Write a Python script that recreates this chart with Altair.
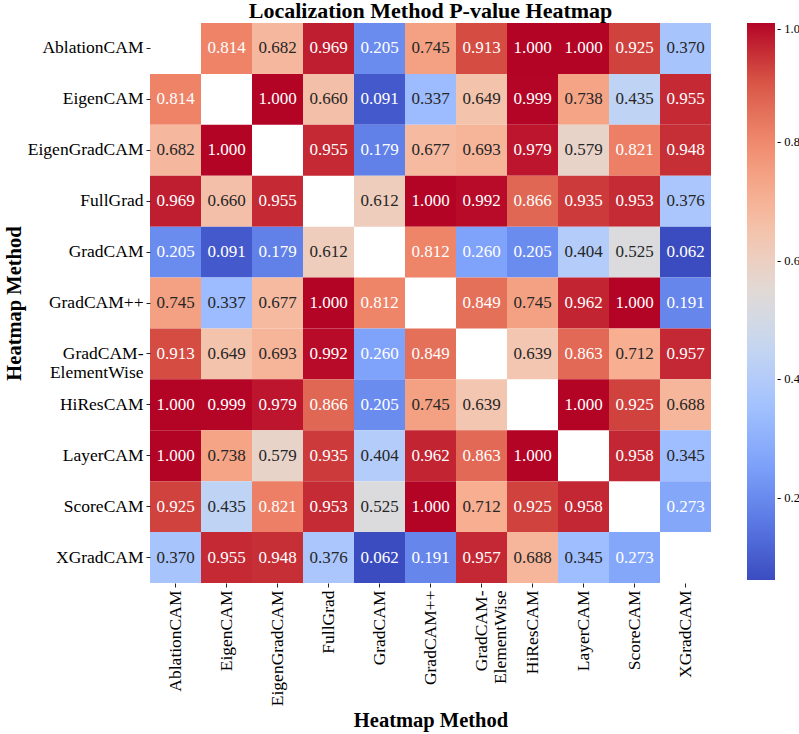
import altair as alt
import pandas as pd

methods = ["AblationCAM", "EigenCAM", "EigenGradCAM", "FullGrad", "GradCAM", "GradCAM++",
           "GradCAM-ElementWise", "HiResCAM", "LayerCAM", "ScoreCAM", "XGradCAM"]

row_ablationcam = [None, 0.814, 0.682, 0.969, 0.205, 0.745, 0.913, 1.000, 1.000, 0.925, 0.370]
row_eigencam = [0.814, None, 1.000, 0.660, 0.091, 0.337, 0.649, 0.999, 0.738, 0.435, 0.955]
row_eigengradcam = [0.682, 1.000, None, 0.955, 0.179, 0.677, 0.693, 0.979, 0.579, 0.821, 0.948]
row_fullgrad = [0.969, 0.660, 0.955, None, 0.612, 1.000, 0.992, 0.866, 0.935, 0.953, 0.376]
row_gradcam = [0.205, 0.091, 0.179, 0.612, None, 0.812, 0.260, 0.205, 0.404, 0.525, 0.062]
row_gradcampp = [0.745, 0.337, 0.677, 1.000, 0.812, None, 0.849, 0.745, 0.962, 1.000, 0.191]
row_elementwise = [0.913, 0.649, 0.693, 0.992, 0.260, 0.849, None, 0.639, 0.863, 0.712, 0.957]
row_hirescam = [1.000, 0.999, 0.979, 0.866, 0.205, 0.745, 0.639, None, 1.000, 0.925, 0.688]
row_layercam = [1.000, 0.738, 0.579, 0.935, 0.404, 0.962, 0.863, 1.000, None, 0.958, 0.345]
row_scorecam = [0.925, 0.435, 0.821, 0.953, 0.525, 1.000, 0.712, 0.925, 0.958, None, 0.273]
row_xgradcam = [0.370, 0.955, 0.948, 0.376, 0.062, 0.191, 0.957, 0.688, 0.345, 0.273, None]

rows = [row_ablationcam, row_eigencam, row_eigengradcam, row_fullgrad, row_gradcam, row_gradcampp,
        row_elementwise, row_hirescam, row_layercam, row_scorecam, row_xgradcam]

legend_ticks = [0.2, 0.4, 0.6, 0.8, 1.0]

coolwarm = ["#3b4cc0", "#5977e3", "#7b9ff9", "#9ebeff", "#c0d4f5", "#dddcdc",
            "#f2cbb7", "#f7ac8e", "#ee8468", "#d65244", "#b40426"]

vmin, vmax = 0.062, 1.0
stops = [vmin + (vmax - vmin) * i / (len(coolwarm) - 1) for i in range(len(coolwarm))]

records = []
for r, row in zip(methods, rows):
    for c, v in zip(methods, row):
        if v is not None:
            records.append({"row": r, "col": c, "v": v, "txt": f"{v:.3f}"})
df = pd.DataFrame(records)

FONT = "Liberation Serif"
label_expr = "datum.label == 'GradCAM-ElementWise' ? ['GradCAM-', 'ElementWise'] : datum.label"

x_enc = alt.X("col:N", sort=methods, scale=alt.Scale(domain=methods, paddingInner=0, paddingOuter=0),
              axis=alt.Axis(title="Heatmap Method", labelAngle=-90, labelAlign="right", labelBaseline="middle",
                            labelExpr=label_expr, labelFont=FONT, labelFontSize=17.5, labelColor="#000",
                            labelPadding=3, labelLineHeight=19,
                            tickSize=4, tickColor="#222", domain=False,
                            titleFont=FONT, titleFontSize=20.5, titleFontWeight="bold", titleColor="#000",
                            titleY=143, titleBaseline="alphabetic"))
y_enc = alt.Y("row:N", sort=methods, scale=alt.Scale(domain=methods, paddingInner=0, paddingOuter=0),
              axis=alt.Axis(title="Heatmap Method", labelExpr=label_expr, labelFont=FONT, labelFontSize=17.5,
                            labelColor="#000", labelPadding=3, labelLineHeight=19,
                            tickSize=4, tickColor="#222", domain=False,
                            titleFont=FONT, titleFontSize=20.5, titleFontWeight="bold", titleColor="#000",
                            titleX=-136, titleBaseline="middle"))

base = alt.Chart(df)

rect = base.mark_rect(strokeWidth=0).encode(
    x=x_enc, y=y_enc,
    color=alt.Color("v:Q", scale=alt.Scale(domain=stops, range=coolwarm, interpolate="rgb"),
                    legend=alt.Legend(title=None, orient="none", legendX=597, legendY=0, type="gradient",
                                      gradientLength=557, gradientThickness=28, values=legend_ticks,
                                      labelExpr="'- ' + format(datum.value, '.1f')",
                                      labelFont=FONT, labelFontSize=12.5, labelColor="#000",
                                      labelOffset=2, gradientStrokeWidth=0)),
)

text = base.mark_text(font=FONT, fontSize=17).encode(
    x=alt.X("col:N", sort=methods),
    y=alt.Y("row:N", sort=methods),
    text="txt:N",
    color=alt.condition("datum.v < 0.3 || datum.v > 0.78", alt.value("#ffffff"), alt.value("#262626")),
)

chart = (rect + text).properties(
    width=561, height=560,
    title=alt.Title("Localization Method P-value Heatmap", font=FONT, fontSize=22, fontWeight="bold",
                    color="#000", anchor="middle", offset=0),
    autosize=alt.AutoSizeParams(type="none"),
    padding={"left": 150, "top": 23, "right": 88, "bottom": 151},
).configure_view(stroke=None)

chart.save("out.html", embed_options={"renderer": "svg", "actions": False})
